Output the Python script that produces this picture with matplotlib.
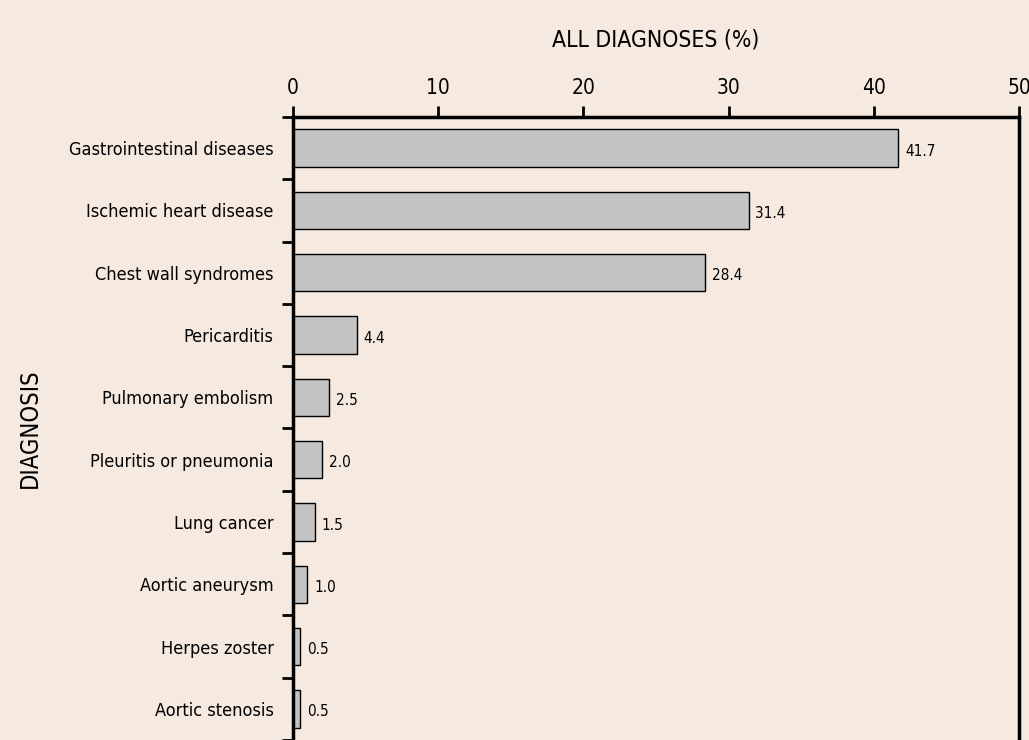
import numpy as np
import matplotlib.pyplot as plt

diagnoses = ['Gastrointestinal diseases', 'Ischemic heart disease', 'Chest wall syndromes',
             'Pericarditis', 'Pulmonary embolism', 'Pleuritis or pneumonia', 'Lung cancer',
             'Aortic aneurysm', 'Herpes zoster', 'Aortic stenosis']
percent = [41.7, 31.4, 28.4, 4.4, 2.5, 2.0, 1.5, 1.0, 0.5, 0.5]
xticks = [0, 10, 20, 30, 40, 50]

plt.rcParams['font.family'] = ['DejaVu Sans']
plt.rcParams['font.stretch'] = 'condensed'
bg = '#f5e9e0'

fig = plt.figure(figsize=(10.29, 7.40), dpi=100, facecolor=bg)
ax = fig.add_axes([0.2847, 0.0, 0.7056, 0.8419])
ax.set_facecolor(bg)

y = np.arange(len(diagnoses))
ax.barh(y, percent, height=0.6, color='#c3c3c3', edgecolor='black', linewidth=1)
for yi, v in zip(y, percent):
    ax.text(v + 0.45, yi + 0.05, f'{v:.1f}', va='center', ha='left', fontsize=11)

ax.set_xlim(0, 50)
ax.set_ylim(len(diagnoses) - 0.5, -0.5)
ax.xaxis.tick_top()
ax.xaxis.set_label_position('top')
ax.set_xticks(xticks)
ax.set_xticklabels([str(t) for t in xticks], fontsize=15)
ax.tick_params(axis='x', direction='out', length=8, width=2, pad=6)
ax.set_xlabel('ALL DIAGNOSES (%)', fontsize=16.5, labelpad=22)

ax.set_yticks(y)
ax.set_yticklabels(diagnoses, fontsize=13)
ax.set_yticks(np.arange(len(diagnoses) + 1) - 0.5, minor=True)
ax.tick_params(axis='y', which='major', length=0, pad=14)
ax.tick_params(axis='y', which='minor', direction='out', length=8, width=2)
ax.set_ylabel('DIAGNOSIS', fontsize=17)
ax.yaxis.set_label_coords(-0.346, 0.5)

for s in ['left', 'top', 'right']:
    ax.spines[s].set_linewidth(2.5)
ax.spines['bottom'].set_visible(False)

fig.savefig('out.png', dpi=100, facecolor=bg)
